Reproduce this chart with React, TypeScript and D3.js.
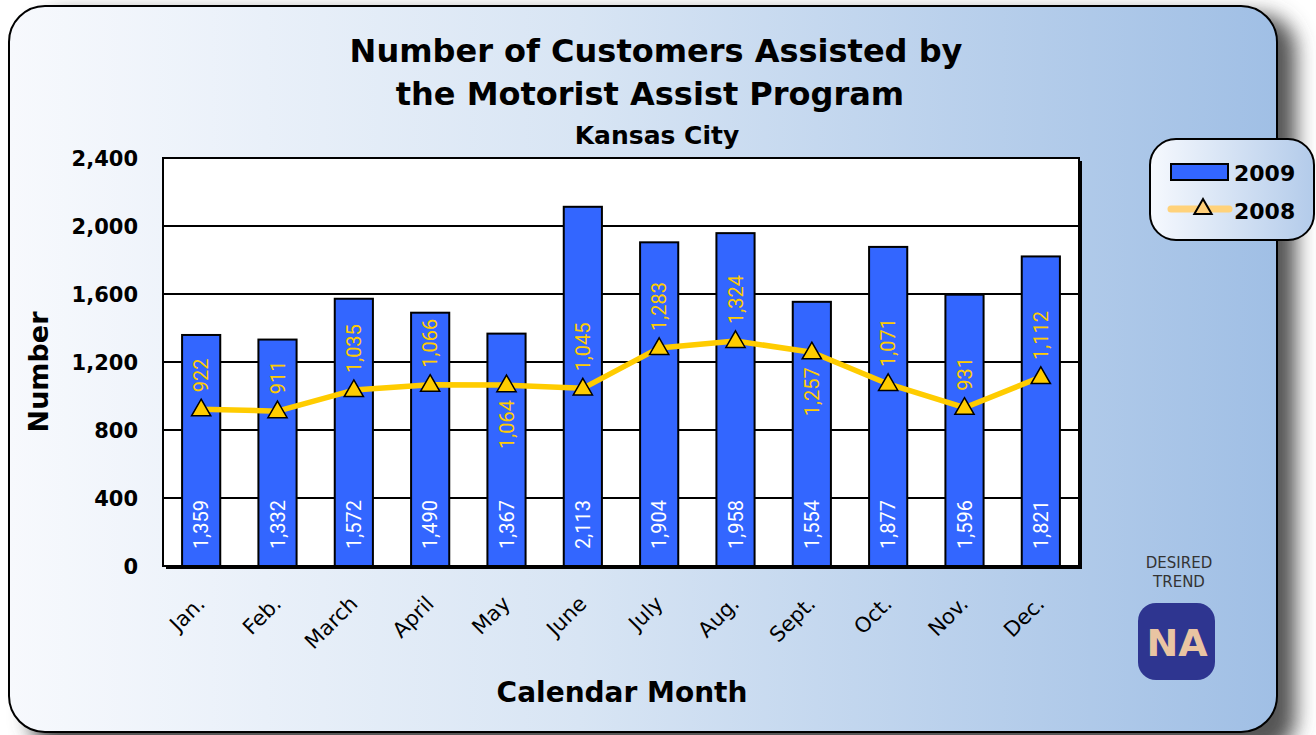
import React from "react";
import * as d3 from "d3";

const months = ["Jan.", "Feb.", "March", "April", "May", "June", "July", "Aug.", "Sept.", "Oct.", "Nov.", "Dec."];
const values2009 = [1359, 1332, 1572, 1490, 1367, 2113, 1904, 1958, 1554, 1877, 1596, 1821];
const values2008 = [922, 911, 1035, 1066, 1064, 1045, 1283, 1324, 1257, 1071, 931, 1112];
const label2008Below = [false, false, false, false, true, false, false, false, true, false, false, false];
const yTicks = [0, 400, 800, 1200, 1600, 2000, 2400];
const titleLines = ["Number of Customers Assisted by", "the Motorist Assist Program"];
const subtitle = "Kansas City";
const seriesNames = ["2009", "2008"];

const W = 1316, H = 735;
const plot = { left: 163, right: 1079, top: 158, bottom: 566 };
const BAR = "#3366ff";
const LINE = "#ffcc00";
const TITLE_FONT = "'DejaVu Sans', sans-serif";

export default function App() {
  const x = d3.scaleBand<string>().domain(months).range([plot.left, plot.right]).paddingInner(0.5).paddingOuter(0.25);
  const y = d3.scaleLinear().domain([0, 2400]).range([plot.bottom, plot.top]);
  const cx = (m: string) => (x(m) as number) + x.bandwidth() / 2;
  const fmt = d3.format(",");
  const line = d3.line<number>().x((_, i) => cx(months[i])).y((d) => y(d));
  const tri = d3.symbol().type(d3.symbolTriangle).size(160)();
  const triSmall = d3.symbol().type(d3.symbolTriangle).size(130)();

  return (
    <svg width={W} height={H} style={{ position: "absolute", left: 0, top: 0 }} xmlns="http://www.w3.org/2000/svg">
      <defs>
        <linearGradient id="panelGrad" x1="0" x2="1" y1="0" y2="0">
          <stop offset="0%" stopColor="#f7f9fd" />
          <stop offset="45%" stopColor="#d8e5f4" />
          <stop offset="100%" stopColor="#a0bfe5" />
        </linearGradient>
        <linearGradient id="legendGrad" x1="0" x2="1" y1="0" y2="0">
          <stop offset="0%" stopColor="#f6f9fe" />
          <stop offset="100%" stopColor="#b3cbea" />
        </linearGradient>
        <filter id="shadow" x="-10%" y="-10%" width="130%" height="130%">
          <feGaussianBlur stdDeviation="10" />
        </filter>
      </defs>
      <rect x={0} y={0} width={W} height={H} fill="#ffffff" />
      {/* shadow */}
      <rect x={30} y={14} width={1266} height={740} rx={36} fill="#555" filter="url(#shadow)" />
      {/* panel */}
      <rect x={9} y={6} width={1268} height={726} rx={36} fill="url(#panelGrad)" stroke="#000" strokeWidth={2} />

      {/* title */}
      <g fontFamily={TITLE_FONT} fontWeight="bold" textAnchor="middle" fill="#000">
        <text x={656} y={62} fontSize={32}>{titleLines[0]}</text>
        <text x={650} y={105} fontSize={32}>{titleLines[1]}</text>
        <text x={657} y={144} fontSize={25}>{subtitle}</text>
      </g>

      {/* plot frame (thicker right/bottom) */}
      <rect x={plot.left + 3} y={plot.top + 3} width={plot.right - plot.left} height={plot.bottom - plot.top} fill="#000" />
      <rect x={plot.left} y={plot.top} width={plot.right - plot.left} height={plot.bottom - plot.top} fill="#fff" stroke="#000" strokeWidth={2} />

      {/* gridlines */}
      {yTicks.slice(1, -1).map((t) => (
        <line key={t} x1={plot.left} x2={plot.right} y1={y(t)} y2={y(t)} stroke="#000" strokeWidth={2} />
      ))}

      {/* y tick labels */}
      <g fontFamily={TITLE_FONT} fontWeight="bold" fontSize={21} textAnchor="end" fill="#000">
        {yTicks.map((t) => (
          <text key={t} x={138} y={y(t) + 8}>{fmt(t)}</text>
        ))}
      </g>
      <text transform={`translate(48,${372}) rotate(-90)`} textAnchor="middle" fontFamily={TITLE_FONT} fontWeight="bold" fontSize={27}>Number</text>

      {/* bars */}
      {values2009.map((v, i) => (
        <rect key={i} x={x(months[i])} y={y(v)} width={x.bandwidth()} height={y(0) - y(v)} fill={BAR} stroke="#000" strokeWidth={2} />
      ))}
      {/* bar labels */}
      <g fontFamily="Roboto, sans-serif" fontSize={20} fill="#fff" textAnchor="start">
        {values2009.map((v, i) => (
          <text key={i} transform={`translate(${cx(months[i]) + 7},${549}) rotate(-90)`}>{fmt(v)}</text>
        ))}
      </g>

      {/* line */}
      <path d={line(values2008) || ""} fill="none" stroke={LINE} strokeWidth={5.5} strokeLinejoin="round" />
      {values2008.map((v, i) => (
        <path key={i} d={tri || ""} transform={`translate(${cx(months[i])},${y(v) + 1})`} fill={LINE} stroke="#000" strokeWidth={1.5} />
      ))}
      <g fontFamily="Roboto, sans-serif" fontSize={20} fill={LINE}>
        {values2008.map((v, i) => (
          label2008Below[i] ? (
            <text key={i} textAnchor="end" transform={`translate(${cx(months[i]) + 7},${y(v) + 15}) rotate(-90)`}>{fmt(v)}</text>
          ) : (
            <text key={i} textAnchor="start" transform={`translate(${cx(months[i]) + 7},${y(v) - 17}) rotate(-90)`}>{fmt(v)}</text>
          )
        ))}
      </g>

      {/* x labels */}
      <g fontFamily={TITLE_FONT} fontSize={21} textAnchor="end" fill="#000">
        {months.map((m) => (
          <text key={m} transform={`translate(${cx(m) + 5},${605}) rotate(-45)`}>{m}</text>
        ))}
      </g>
      <text x={622} y={702} textAnchor="middle" fontFamily={TITLE_FONT} fontWeight="bold" fontSize={28}>Calendar Month</text>

      {/* legend */}
      <rect x={1150} y={139} width={164} height={101} rx={26} fill="url(#legendGrad)" stroke="#000" strokeWidth={2} />
      <rect x={1171} y={164} width={57} height={16} fill={BAR} stroke="#000" strokeWidth={2} />
      <text x={1234} y={181} fontFamily={TITLE_FONT} fontWeight="bold" fontSize={22}>{seriesNames[0]}</text>
      <line x1={1171} x2={1229} y1={209} y2={209} stroke="#ffd27a" strokeWidth={7} strokeLinecap="round" />
      <path d={triSmall || ""} transform={`translate(${1203},${209})`} fill="#ffcf7a" stroke="#000" strokeWidth={2} />
      <text x={1234} y={219} fontFamily={TITLE_FONT} fontWeight="bold" fontSize={22}>{seriesNames[1]}</text>

      {/* desired trend */}
      <g fontFamily={TITLE_FONT} fontSize={15} fill="#333" textAnchor="middle">
        <text x={1179} y={568}>DESIRED</text>
        <text x={1179} y={587}>TREND</text>
      </g>
      <rect x={1138} y={603} width={77} height={77} rx={18} fill="#2e3590" />
      <text x={1177} y={656} textAnchor="middle" fontFamily={TITLE_FONT} fontWeight="bold" fontSize={38} fill="#e9c4a2">NA</text>
    </svg>
  );
}
